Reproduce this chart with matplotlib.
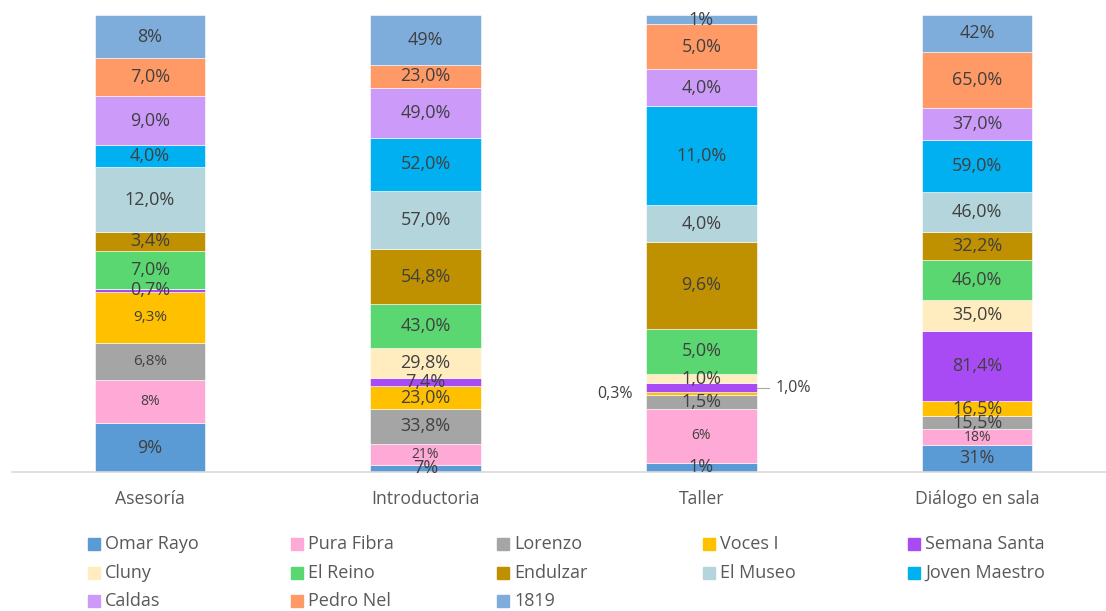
import numpy as np
import matplotlib.pyplot as plt
from matplotlib.patches import Rectangle

# categorías y series (valores en %, cada columna se normaliza a 100)
categorias = ['Asesoría', 'Introductoria', 'Taller', 'Diálogo en sala']
series = ['Omar Rayo', 'Pura Fibra', 'Lorenzo', 'Voces I', 'Semana Santa',
          'Cluny', 'El Reino', 'Endulzar', 'El Museo', 'Joven Maestro',
          'Caldas', 'Pedro Nel', '1819']

omar_rayo = [9, 7, 1, 31]
pura_fibra = [8, 21, 6, 18]
lorenzo = [6.8, 33.8, 1.5, 15.5]
voces_i = [9.3, 23.0, 0.3, 16.5]
semana_santa = [0.7, 7.4, 1.0, 81.4]
cluny = [0, 29.8, 1.0, 35.0]
el_reino = [7.0, 43.0, 5.0, 46.0]
endulzar = [3.4, 54.8, 9.6, 32.2]
el_museo = [12.0, 57.0, 4.0, 46.0]
joven_maestro = [4.0, 52.0, 11.0, 59.0]
caldas = [9.0, 49.0, 4.0, 37.0]
pedro_nel = [7.0, 23.0, 5.0, 65.0]
s1819 = [8, 49, 1, 42]

valores = [omar_rayo, pura_fibra, lorenzo, voces_i, semana_santa, cluny,
           el_reino, endulzar, el_museo, joven_maestro, caldas, pedro_nel, s1819]
decimales = [0, 0, 1, 1, 1, 1, 1, 1, 1, 1, 1, 1, 0]

colores = ['#5B9BD5', '#FFA9D6', '#A5A5A5', '#FFC000', '#A94BF5',
           '#FFEDBF', '#5AD771', '#BF9000', '#B4D5DB', '#00B0F0',
           '#CC9BFA', '#FF9966', '#7EADDC']

plt.rcParams['font.family'] = ['Open Sans', 'DejaVu Sans']

fig = plt.figure(figsize=(11.06, 6.11), dpi=100)
W, H = 1106, 611
ax = fig.add_axes([12 / W, (H - 472) / H, (1115 - 12) / W, 457 / H])

datos = np.array(valores, dtype=float)
totales = datos.sum(axis=0)
pct = datos / totales * 100
x = np.arange(len(categorias))
base = np.zeros(len(categorias))

for i, nombre in enumerate(series):
    ax.bar(x, pct[i], 0.4, bottom=base, color=colores[i], label=nombre,
           edgecolor='white', linewidth=0.4)
    for j in range(len(categorias)):
        v = datos[i, j]
        if v == 0:
            base[j] += pct[i, j]
            continue
        txt = f'{v:.{decimales[i]}f}%'.replace('.', ',')
        yc = base[j] + pct[i, j] / 2
        size = 13
        if nombre == 'Pura Fibra':
            size = 10
        elif j == 0 and nombre in ('Lorenzo', 'Voces I'):
            size = 11
        if j == 2 and nombre == 'Voces I':
            # etiqueta fuera de la barra, a la izquierda
            ax.text(x[j] - 0.25, yc, txt, ha='right', va='center',
                    fontsize=11.5, color='#404040')
        elif j == 2 and nombre == 'Semana Santa':
            # etiqueta fuera de la barra con línea guía
            ax.plot([x[j] + 0.2, x[j] + 0.247], [yc, yc], color='#A6A6A6', lw=0.8)
            ax.text(x[j] + 0.27, yc, txt, ha='left', va='center',
                    fontsize=11.5, color='#404040')
        else:
            ax.text(x[j], yc, txt, ha='center', va='center',
                    fontsize=size, color='#404040')
    base += pct[i]

ax.set_xlim(-0.5, 3.5)
ax.set_ylim(0, 100)
ax.set_yticks([])
ax.set_xticks(x)
ax.set_xticklabels(categorias, fontsize=12.7, color='#595959')
ax.tick_params(axis='x', length=0, pad=13)
for lado in ('top', 'right', 'left'):
    ax.spines[lado].set_visible(False)
ax.spines['bottom'].set_color('#D9D9D9')
ax.spines['bottom'].set_linewidth(1.2)

# leyenda en 5 columnas, llenada por filas
col_x = [88, 291, 497, 703, 908]
fila_y = [544, 573, 601]
for i, nombre in enumerate(series):
    fila, col = divmod(i, 5)
    px, py = col_x[col], fila_y[fila]
    fig.patches.append(Rectangle((px / W, (H - py - 6) / H), 12 / W, 12 / H,
                                 transform=fig.transFigure, color=colores[i]))
    fig.text((px + 17) / W, (H - py) / H, nombre, ha='left', va='center',
             fontsize=13, color='#595959')

fig.savefig('out.png', dpi=100)
